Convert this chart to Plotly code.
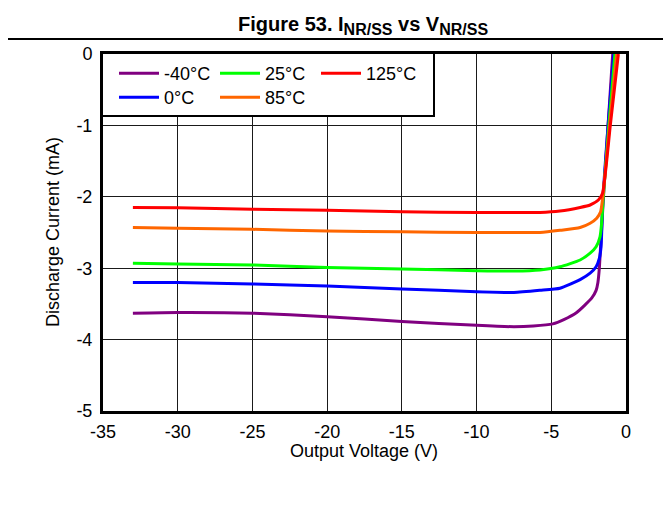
import plotly.graph_objects as go

# ---------------- data ----------------
names = ["-40°C", "0°C", "25°C", "85°C", "125°C"]
colors = ["#800080", "#0000FF", "#00FF00", "#FF6600", "#FF0000"]

v_m40 = [-33, -30, -25, -20, -15, -10, -7.5, -6.2, -4.9, -4.16, -3.3, -2.77, -2.3, -2.0, -1.88, -1.78, -1.51, -1.2, -0.89]
i_m40 = [-3.63, -3.62, -3.63, -3.68, -3.745, -3.80, -3.82, -3.81, -3.78, -3.72, -3.62, -3.52, -3.42, -3.31, -3.2, -2.99, -2.0, -1.0, 0]

v_0 = [-33, -30, -25, -20, -15, -10, -7.5, -5.76, -4.42, -3.07, -2.4, -2.0, -1.78, -1.67, -1.54, -1.2, -0.82]
i_0 = [-3.20, -3.20, -3.22, -3.25, -3.29, -3.33, -3.34, -3.31, -3.28, -3.16, -3.07, -2.98, -2.86, -2.70, -2.0, -1.0, 0]

v_25 = [-33, -30, -25, -20, -15, -10, -7.5, -5.76, -4.42, -3.07, -2.4, -2.0, -1.74, -1.63, -1.52, -1.15, -0.74]
i_25 = [-2.93, -2.94, -2.955, -2.99, -3.01, -3.035, -3.04, -3.025, -2.98, -2.885, -2.79, -2.70, -2.56, -2.37, -2.0, -1.0, 0]

v_85 = [-33, -30, -25, -20, -15, -10, -7.5, -5.76, -4.42, -3.07, -2.4, -1.96, -1.7, -1.55, -1.1, -0.63]
i_85 = [-2.43, -2.44, -2.455, -2.48, -2.49, -2.50, -2.50, -2.50, -2.47, -2.43, -2.37, -2.30, -2.21, -2.0, -1.0, 0]

v_125 = [-33, -30, -25, -20, -15, -10, -7.5, -5.76, -4.42, -3.07, -2.4, -1.85, -1.57, -1.05, -0.51]
i_125 = [-2.15, -2.155, -2.175, -2.19, -2.21, -2.22, -2.22, -2.22, -2.20, -2.15, -2.115, -2.045, -1.95, -1.0, 0]

x_ticks = [-35, -30, -25, -20, -15, -10, -5, 0]
x_ticktext = ["-35", "-30", "-25", "-20", "-15", "-10", "-5", "0"]
y_ticks = [0, -1, -2, -3, -4, -5]
y_ticktext = ["0", "-1", "-2", "-3", "-4", "-5"]

title_text = ("Figure 53. I<sub><span style='font-size:16px'>NR/SS</span></sub> vs "
              "V<sub><span style='font-size:16px'>NR/SS</span></sub>")
x_title = "Output Voltage (V)"
y_title = "Discharge Current (mA)"

series = [
    (v_m40, i_m40, names[0], colors[0], "legend"),
    (v_0, i_0, names[1], colors[1], "legend2"),
    (v_25, i_25, names[2], colors[2], "legend"),
    (v_85, i_85, names[3], colors[3], "legend2"),
    (v_125, i_125, names[4], colors[4], "legend"),
]

FONT = "Liberation Sans, Arial, sans-serif"

fig = go.Figure()
for vx, iy, nm, col, lg in series:
    fig.add_trace(go.Scatter(
        x=vx, y=iy, name=nm, mode="lines",
        line=dict(color=col, width=3, shape="spline", smoothing=0.5),
        legend=lg,
    ))

W, H = 671, 508
# the page adds an 8px body margin, so plot area placed 8px up/left
ml, mt = 95, 46
pw, ph = 523, 357
mr, mb = W - ml - pw, H - mt - ph
OFF = 8


def px_x(p):  # page pixel -> paper
    return (p - OFF - ml) / pw


def px_y(p):
    return 1 - (p - OFF - mt) / ph


fig.update_layout(
    width=W, height=H,
    margin=dict(l=ml, r=mr, t=mt, b=mb, pad=0),
    paper_bgcolor="white", plot_bgcolor="white",
    font=dict(family=FONT, size=18, color="black"),
    showlegend=True,
    legend=dict(
        orientation="h", x=px_x(114), y=px_y(55), xanchor="left", yanchor="top",
        bgcolor="rgba(0,0,0,0)", borderwidth=0, itemwidth=40,
        entrywidth=46, entrywidthmode="pixels",
        font=dict(family=FONT, size=18, color="black"),
        traceorder="normal",
    ),
    legend2=dict(
        orientation="h", x=px_x(114), y=px_y(79), xanchor="left", yanchor="top",
        bgcolor="rgba(0,0,0,0)", borderwidth=0, itemwidth=40,
        entrywidth=46, entrywidthmode="pixels",
        font=dict(family=FONT, size=18, color="black"),
        traceorder="normal",
    ),
    xaxis=dict(
        range=[-35, 0], tickvals=x_ticks, ticktext=x_ticktext,
        showgrid=True, gridcolor="#1a1a1a", gridwidth=1, zeroline=False,
        showline=True, linecolor="black", linewidth=3, mirror=True,
        ticks="", ticklabelstandoff=2,
        tickfont=dict(family=FONT, size=18, color="black"),
    ),
    yaxis=dict(
        range=[-5, 0], tickvals=y_ticks, ticktext=y_ticktext,
        showgrid=True, gridcolor="#1a1a1a", gridwidth=1, zeroline=False,
        showline=True, linecolor="black", linewidth=3, mirror=True,
        ticks="", ticklabelstandoff=4,
        tickfont=dict(family=FONT, size=18, color="black"),
    ),
    shapes=[
        # legend box
        dict(type="rect", xref="paper", yref="paper",
             x0=px_x(102), x1=px_x(434), y0=px_y(116), y1=px_y(53),
             line=dict(color="black", width=2), fillcolor="white", layer="above"),
        # rule under the title
        dict(type="line", xref="paper", yref="paper",
             x0=px_x(0), x1=px_x(W + 10), y0=px_y(39), y1=px_y(39),
             line=dict(color="black", width=2)),
    ],
    annotations=[
        dict(text=title_text, xref="paper", yref="paper", x=px_x(363), y=px_y(25),
             xanchor="center", yanchor="middle", showarrow=False,
             font=dict(family=FONT, size=20, color="black", weight="bold")),
        dict(text=x_title, xref="paper", yref="paper", x=px_x(364), y=px_y(451),
             xanchor="center", yanchor="middle", showarrow=False,
             font=dict(family=FONT, size=18, color="black")),
        dict(text=y_title, xref="paper", yref="paper", x=px_x(53), y=px_y(232),
             xanchor="center", yanchor="middle", showarrow=False, textangle=-90,
             font=dict(family=FONT, size=18, color="black")),
    ],
)

fig.write_html("out.html")
